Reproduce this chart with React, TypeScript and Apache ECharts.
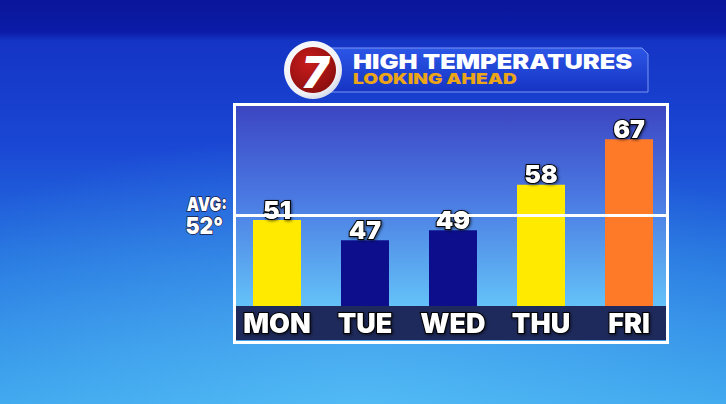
import React, { useEffect, useRef } from "react";
import * as echarts from "echarts";

const days = ["MON", "TUE", "WED", "THU", "FRI"];
const highs = [51, 47, 49, 58, 67];
const barColors = ["#ffea00", "#0c0e8c", "#0c0e8c", "#ffea00", "#ff7a28"];
const avgTemp = 52;
const titleMain = "HIGH TEMPERATURES";
const titleSub = "LOOKING AHEAD";
const avgLabel = "AVG:";
const avgValueLabel = "52°";

export default function App() {
  const ref = useRef<HTMLDivElement>(null);
  useEffect(() => {
    document.body.style.margin = "0";
    const chart = echarts.init(ref.current!, null, { renderer: "svg" });
    const font = "Inter";
    const lin = (stops: [number, string][], x2 = 0, y2 = 1) =>
      new echarts.graphic.LinearGradient(0, 0, x2, y2, stops.map(([offset, color]) => ({ offset, color })));
    const yRange = { min: 34, max: 70 };
    chart.setOption({
      animation: false,
      backgroundColor: lin([
        [0, "#0a169a"],
        [0.08, "#0c1ca8"],
        [0.1, "#1434c4"],
        [0.35, "#1a46d4"],
        [0.65, "#2676e0"],
        [1, "#3aa2ec"],
      ]),
      grid: [
        { left: 233, top: 124, width: 440, height: 182 },
        { left: 236, top: 124, width: 430, height: 182 },
      ],
      xAxis: [
        {
          type: "category",
          data: days,
          gridIndex: 0,
          z: 6,
          axisLine: { show: false },
          axisTick: { show: false },
          axisLabel: {
            interval: 0,
            margin: 4,
            color: "#ffffff",
            fontFamily: font,
            fontWeight: 900,
            fontSize: 27,
            lineHeight: 26,
            textBorderColor: "#000000",
            textBorderWidth: 2,
            textShadowColor: "rgba(0,0,0,0.6)",
            textShadowBlur: 3,
            textShadowOffsetX: 1,
            textShadowOffsetY: 1,
          },
        },
        { type: "category", data: days, gridIndex: 1, show: false },
      ],
      yAxis: [
        { type: "value", gridIndex: 0, ...yRange, show: false, splitLine: { show: false } },
        { type: "value", gridIndex: 1, ...yRange, show: false, splitLine: { show: false } },
      ],
      graphic: [
        {
          type: "rect",
          z: -1,
          shape: { x: 0, y: 40, width: 726, height: 364 },
          style: {
            fill: new echarts.graphic.RadialGradient(0.5, 1, 0.75, [
              { offset: 0, color: "rgba(110,215,255,0.45)" },
              { offset: 1, color: "rgba(110,215,255,0)" },
            ]),
          },
        },
        {
          type: "rect",
          z: 0,
          shape: { x: 236, y: 106, width: 430, height: 200 },
          style: { fill: lin([[0, "#3c46c2"], [0.45, "#4a78e2"], [1, "#64c2f8"]]) },
        },
        {
          type: "rect",
          z: 0,
          shape: { x: 236, y: 306, width: 430, height: 34 },
          style: { fill: "#1f2a5c" },
        },
        {
          type: "rect",
          z: 1,
          shape: { x: 234.5, y: 104.5, width: 433, height: 238 },
          style: { fill: "none", stroke: "#ffffff", lineWidth: 3 },
        },
        {
          type: "polygon",
          z: 1,
          shape: { points: [[330, 48], [642, 48], [648, 54], [648, 92], [330, 92]] },
          style: {
            fill: lin([[0, "#2c56e6"], [1, "#1634c4"]]),
            stroke: "#7a96f2",
            lineWidth: 1,
          },
        },
        {
          type: "text",
          z: 2,
          x: 353,
          y: 62,
          scaleX: 1.27,
          style: {
            text: titleMain,
            fill: "#ffffff",
            font: `900 20px "${font}"`,
            verticalAlign: "middle",
            align: "left",
            shadowColor: "rgba(0,0,0,0.5)",
            shadowBlur: 2,
            shadowOffsetX: 1,
            shadowOffsetY: 1,
          },
        },
        {
          type: "text",
          z: 2,
          x: 353,
          y: 78,
          scaleX: 1.28,
          style: {
            text: titleSub,
            fill: "#eca516",
            font: `900 15px "${font}"`,
            verticalAlign: "middle",
            align: "left",
          },
        },
        {
          type: "circle",
          z: 3,
          shape: { cx: 313, cy: 70, r: 29 },
          style: {
            fill: new echarts.graphic.RadialGradient(0.4, 0.35, 0.8, [
              { offset: 0, color: "#ffffff" },
              { offset: 0.7, color: "#eef0f6" },
              { offset: 1, color: "#b8c0d8" },
            ]),
          },
        },
        {
          type: "circle",
          z: 3,
          shape: { cx: 313, cy: 70, r: 23 },
          style: {
            fill: new echarts.graphic.RadialGradient(0.4, 0.35, 0.8, [
              { offset: 0, color: "#c81c1c" },
              { offset: 1, color: "#820c0c" },
            ]),
          },
        },
        {
          type: "text",
          z: 4,
          x: 315,
          y: 72,
          style: {
            text: "7",
            fill: "#ffffff",
            font: `italic 900 44px "${font}"`,
            align: "center",
            verticalAlign: "middle",
          },
        },
        {
          type: "text",
          z: 2,
          x: 227,
          y: 204,
          scaleX: 0.82,
          style: {
            text: avgLabel,
            fill: "#ffffff",
            font: `900 19px "${font}"`,
            align: "right",
            verticalAlign: "middle",
            stroke: "#1a1a40",
            lineWidth: 1.5,
            shadowColor: "rgba(0,0,0,0.6)",
            shadowBlur: 2,
            shadowOffsetX: 1,
            shadowOffsetY: 1,
          },
        },
        {
          type: "text",
          z: 2,
          x: 223,
          y: 226,
          scaleX: 0.92,
          style: {
            text: avgValueLabel,
            fill: "#ffffff",
            font: `900 23px "${font}"`,
            align: "right",
            verticalAlign: "middle",
            stroke: "#1a1a40",
            lineWidth: 1.5,
            shadowColor: "rgba(0,0,0,0.6)",
            shadowBlur: 2,
            shadowOffsetX: 1,
            shadowOffsetY: 1,
          },
        },
      ],
      series: [
        {
          type: "bar",
          z: 3,
          barWidth: 48,
          xAxisIndex: 0,
          yAxisIndex: 0,
          data: highs.map((v, i) => ({ value: v, itemStyle: { color: barColors[i] } })),
          label: {
            show: true,
            position: "top",
            distance: -2,
            color: "#ffffff",
            fontFamily: font,
            fontWeight: 900,
            fontSize: 25,
            textBorderColor: "#000000",
            textBorderWidth: 2,
            textShadowColor: "rgba(0,0,0,0.6)",
            textShadowBlur: 3,
            textShadowOffsetX: 1,
            textShadowOffsetY: 1,
          },
        },
        {
          type: "line",
          z: 5,
          xAxisIndex: 1,
          yAxisIndex: 1,
          data: [],
          markLine: {
            silent: true,
            symbol: "none",
            label: { show: false },
            lineStyle: { color: "#ffffff", width: 3, type: "solid" },
            data: [{ yAxis: avgTemp }],
          },
        },
      ],
    });
    return () => chart.dispose();
  }, []);
  return <div ref={ref} style={{ width: 726, height: 404 }} />;
}
